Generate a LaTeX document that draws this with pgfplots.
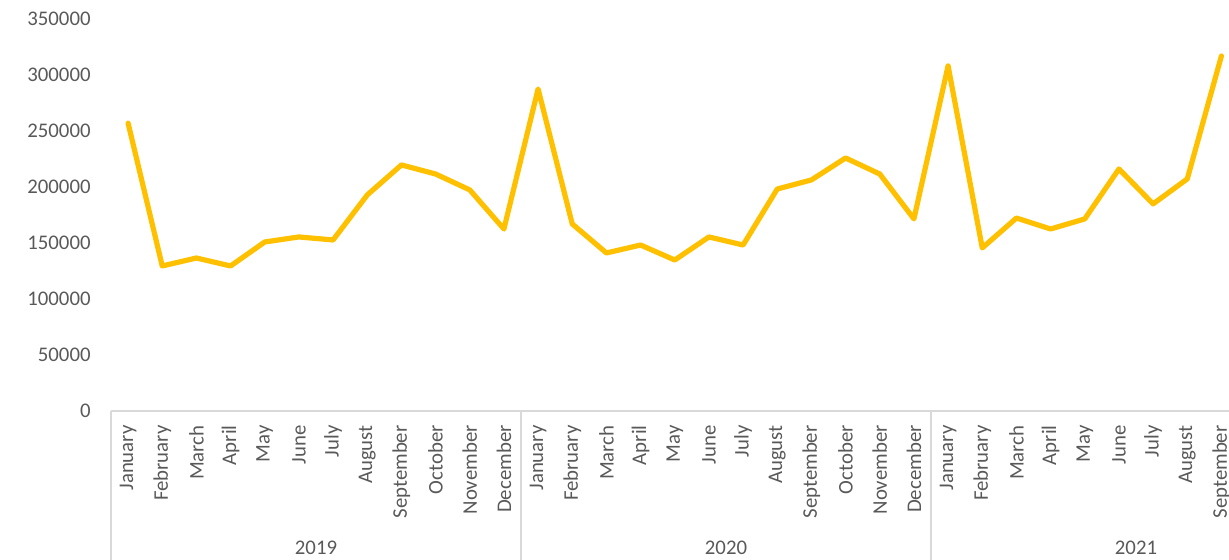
\documentclass[border=0pt]{standalone}
\usepackage{pgfplots}
\pgfplotsset{compat=1.18}
\usepackage{fontspec}
\setmainfont{Carlito}
\definecolor{lineyel}{HTML}{FFC000}
\definecolor{txtgray}{HTML}{595959}
\definecolor{axgray}{HTML}{D9D9D9}
\begin{document}
\begin{tikzpicture}
\useasboundingbox (-55.5pt,-74.5pt) rectangle (559pt,205.5pt);
\clip (-55.5pt,-74.5pt) rectangle (559pt,205.5pt);
\begin{axis}[
  scale only axis,
  width=615pt, height=196pt,
  xmin=-0.5, xmax=35.5,
  ymin=0, ymax=350000,
  clip=false,
  axis line style={draw=none},
  major tick length=0pt,
  ytick={0,50000,100000,150000,200000,250000,300000,350000},
  scaled y ticks=false,
  /pgf/number format/assume math mode=true,
  /pgf/number format/fixed,
  /pgf/number format/1000 sep={},
  yticklabel style={font=\fontsize{10.4pt}{12pt}\selectfont, text=txtgray, anchor=east, inner sep=0pt, xshift=-10pt},
  xtick={0,...,32},
  xticklabels={January,February,March,April,May,June,July,August,September,October,November,December,
               January,February,March,April,May,June,July,August,September,October,November,December,
               January,February,March,April,May,June,July,August,September},
  xticklabel shift=7pt,
  xticklabel style={font=\fontsize{10.4pt}{12pt}\selectfont, text=txtgray, rotate=90, anchor=east, inner sep=0pt},
]
\draw[axgray, line width=0.8pt] (axis cs:-0.5,0) -- (axis cs:35.5,0);
\draw[axgray, line width=0.8pt] (axis cs:-0.5,0) -- ([yshift=-80pt]axis cs:-0.5,0);
\draw[axgray, line width=0.8pt] (axis cs:11.5,0) -- ([yshift=-80pt]axis cs:11.5,0);
\draw[axgray, line width=0.8pt] (axis cs:23.5,0) -- ([yshift=-80pt]axis cs:23.5,0);
\node[font=\fontsize{10.4pt}{12pt}\selectfont, text=txtgray] at ([yshift=-68.5pt]axis cs:5.5,0) {2019};
\node[font=\fontsize{10.4pt}{12pt}\selectfont, text=txtgray] at ([yshift=-68.5pt]axis cs:17.5,0) {2020};
\node[font=\fontsize{10.4pt}{12pt}\selectfont, text=txtgray] at ([yshift=-68.5pt]axis cs:29.5,0) {2021};
\addplot[lineyel, line width=2.6pt, line join=round, line cap=round, mark=none] coordinates {
(0,257000) (1,129500) (2,136600) (3,129500) (4,150900) (5,155400) (6,152700) (7,192900) (8,219700) (9,211600) (10,197400) (11,162500)
(12,287500) (13,167000) (14,141100) (15,148200) (16,134800) (17,155400) (18,148200) (19,198200) (20,206300) (21,225900) (22,211600) (23,171500)
(24,308100) (25,145600) (26,172300) (27,162500) (28,171500) (29,216100) (30,184900) (31,207200) (32,317000)
};
\end{axis}
\end{tikzpicture}
\end{document}
